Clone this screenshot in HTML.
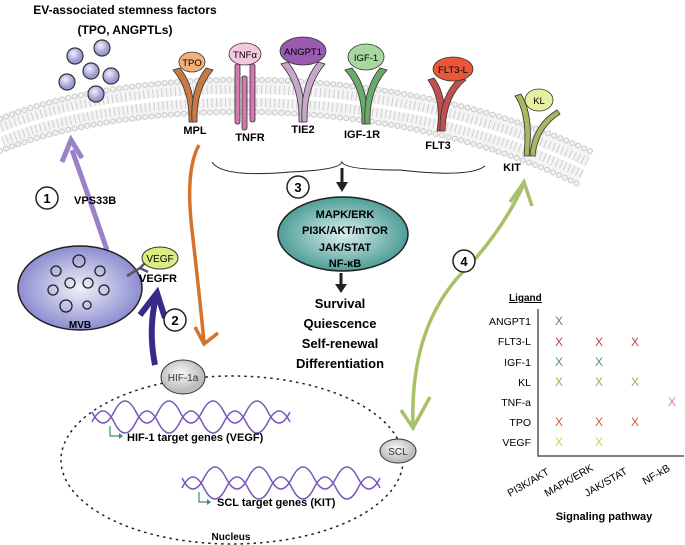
<!DOCTYPE html>
<html><head><meta charset="utf-8"><style>
html,body{margin:0;padding:0;background:#fff}
svg{display:block;font-family:"Liberation Sans",sans-serif}
.b{font-weight:bold}
</style></head><body>
<svg width="685" height="545" viewBox="0 0 685 545">
<defs>
<radialGradient id="ves" cx="40%" cy="35%"><stop offset="0" stop-color="#f0f0ff"/><stop offset="1" stop-color="#9a9ad0"/></radialGradient>
<radialGradient id="mvb" cx="50%" cy="50%"><stop offset="0" stop-color="#f2f2fb"/><stop offset="1" stop-color="#8c8cd0"/></radialGradient>
<radialGradient id="teal" cx="50%" cy="50%"><stop offset="0" stop-color="#d9efed"/><stop offset="1" stop-color="#4f9e98"/></radialGradient>
<radialGradient id="gray" cx="45%" cy="40%"><stop offset="0" stop-color="#fafafa"/><stop offset="1" stop-color="#bcbcbc"/></radialGradient>
</defs>
<!-- membrane -->
<path d="M0,135 C120,85 380,70 585,168" fill="none" stroke="#f4f4f4" stroke-width="36"/>
<path d="M0,135 C120,85 380,70 585,168" fill="none" stroke="#cfcfcf" stroke-width="22" stroke-dasharray="1 3.5"/>
<path d="M0,135 C120,85 380,70 585,168" fill="none" stroke="#fff" stroke-width="4"/>
<path d="M0,119 C120,69 380,54 590,151" fill="none" stroke="#c8c8c8" stroke-width="6" stroke-dasharray="0 6.5" stroke-linecap="round"/>
<path d="M0,119 C120,69 380,54 590,151" fill="none" stroke="#f2f2f2" stroke-width="4" stroke-dasharray="0 6.5" stroke-linecap="round"/>
<path d="M0,151 C120,101 380,86 580,185" fill="none" stroke="#c8c8c8" stroke-width="6" stroke-dasharray="0 6.5" stroke-linecap="round"/>
<path d="M0,151 C120,101 380,86 580,185" fill="none" stroke="#f2f2f2" stroke-width="4" stroke-dasharray="0 6.5" stroke-linecap="round"/>

<!-- title -->
<text x="125" y="14" font-size="12" text-anchor="middle" class="b">EV-associated stemness factors</text>
<text x="125" y="34" font-size="12" text-anchor="middle" class="b">(TPO, ANGPTLs)</text>
<g fill="url(#ves)" stroke="#333" stroke-width="1.2">
<circle cx="75" cy="56" r="8"/><circle cx="102" cy="48" r="8"/><circle cx="91" cy="71" r="8"/><circle cx="111" cy="76" r="8"/><circle cx="67" cy="82" r="8"/><circle cx="96" cy="94" r="8"/>
</g>

<!-- receptors -->
<g stroke="#333" stroke-width="0.8">
<path d="M173,70 Q190,90 189,122 L194,122 Q196,88 180,68Z" fill="#c87a42"/>
<path d="M213,70 Q196,90 197,122 L192,122 Q190,88 206,68Z" fill="#c87a42"/>
<ellipse cx="192" cy="62" rx="13" ry="10" fill="#f4b07a"/>
<rect x="235" y="64" width="5" height="60" rx="2" fill="#d478b0"/>
<rect x="250" y="64" width="5" height="58" rx="2" fill="#d478b0"/>
<rect x="242" y="76" width="5" height="54" rx="2" fill="#d478b0"/>
<ellipse cx="245" cy="54" rx="16" ry="11" fill="#f5c8e0"/>
<path d="M281,64 Q300,86 299,122 L304,122 Q306,84 288,62Z" fill="#c8a8c8"/>
<path d="M325,64 Q306,86 307,122 L302,122 Q300,84 318,62Z" fill="#c8a8c8"/>
<ellipse cx="303" cy="51" rx="23" ry="14" fill="#9a5ab0"/>
<path d="M345,70 Q363,90 362,124 L367,124 Q369,88 352,68Z" fill="#6aaa6a"/>
<path d="M387,70 Q369,90 370,124 L365,124 Q363,88 380,68Z" fill="#6aaa6a"/>
<ellipse cx="366" cy="57" rx="18" ry="13" fill="#a8d8a0"/>
<path d="M428,80 Q442,100 437,131 L442,131 Q449,98 434,78Z" fill="#c05050"/>
<path d="M466,80 Q446,96 445,131 L440,131 Q439,96 459,78Z" fill="#c05050"/>
<ellipse cx="453" cy="69" rx="20" ry="12" fill="#e85838"/>
<path d="M515,96 Q528,115 524,156 L529,156 Q534,115 521,94Z" fill="#a8b860"/>
<path d="M557,110 Q532,125 530,156 L535,156 Q538,128 560,114Z" fill="#a8b860"/>
<ellipse cx="539" cy="100" rx="14" ry="11" fill="#e6f0a0"/>
</g>
<g font-size="9.5" text-anchor="middle">
<text x="192" y="66">TPO</text>
<text x="245" y="58">TNFα</text>
<text x="303" y="55">ANGPT1</text>
<text x="366" y="61">IGF-1</text>
<text x="453" y="73">FLT3-L</text>
<text x="539" y="104">KL</text>
</g>
<g font-size="11" text-anchor="middle" class="b">
<text x="195" y="134">MPL</text>
<text x="250" y="141">TNFR</text>
<text x="303" y="133">TIE2</text>
<text x="362" y="138">IGF-1R</text>
<text x="438" y="149">FLT3</text>
<text x="512" y="171">KIT</text>
</g>

<!-- arrow 1 -->
<path d="M107,250 Q90,200 72,150" fill="none" stroke="#9b82c8" stroke-width="5"/>
<path d="M62,162 L71,140 L82,158" fill="none" stroke="#9b82c8" stroke-width="5"/>
<circle cx="47" cy="198" r="11" fill="#fff" stroke="#222" stroke-width="1.5"/>
<text x="47" y="203" font-size="13" text-anchor="middle" class="b">1</text>
<text x="74" y="204" font-size="11" class="b">VPS33B</text>

<!-- MVB -->
<ellipse cx="80" cy="288" rx="62" ry="42" fill="url(#mvb)" stroke="#222" stroke-width="1.5"/>
<g fill="none" stroke="#222" stroke-width="1.3">
<circle cx="79" cy="261" r="6"/><circle cx="56" cy="271" r="5"/><circle cx="100" cy="271" r="5"/><circle cx="70" cy="283" r="5"/><circle cx="88" cy="283" r="5"/><circle cx="53" cy="290" r="5"/><circle cx="104" cy="290" r="5"/><circle cx="66" cy="306" r="6"/><circle cx="87" cy="305" r="4"/>
</g>
<text x="80" y="328" font-size="10" text-anchor="middle" class="b">MVB</text>
<path d="M127,276 L140,268 M140,268 L146,262 M140,268 L148,272" stroke="#556" stroke-width="2.5" fill="none"/>
<ellipse cx="160" cy="258" rx="18" ry="11" fill="#d8ee80" stroke="#333"/>
<text x="160" y="262" font-size="10" text-anchor="middle">VEGF</text>
<text x="158" y="282" font-size="11" text-anchor="middle" class="b">VEGFR</text>

<!-- arrow 2 -->
<path d="M155,365 Q148,330 156,297" fill="none" stroke="#3a2a88" stroke-width="6"/>
<path d="M140,315 L157,293 L165,318" fill="none" stroke="#3a2a88" stroke-width="6"/>
<circle cx="175" cy="320" r="11" fill="#fff" stroke="#222" stroke-width="1.5"/>
<text x="175" y="325" font-size="13" text-anchor="middle" class="b">2</text>

<!-- orange arrow -->
<path d="M199,145 Q185,170 192,230 Q200,300 204,342" fill="none" stroke="#d5732a" stroke-width="3.5"/>
<path d="M195,327 L204,344 L218,333" fill="none" stroke="#d5732a" stroke-width="3.5"/>

<!-- brace -->
<path d="M212,162 Q222,178 290,172 Q340,170 342,162 Q345,170 400,170 Q470,178 485,166" fill="none" stroke="#222" stroke-width="1"/>
<path d="M342,168 L342,184" stroke="#222" stroke-width="3"/>
<path d="M336,182 L342,192 L348,182Z" fill="#222"/>
<circle cx="298" cy="187" r="11" fill="#fff" stroke="#222" stroke-width="1.5"/>
<text x="298" y="192" font-size="13" text-anchor="middle" class="b">3</text>
<ellipse cx="343" cy="234" rx="65" ry="37" fill="url(#teal)" stroke="#222" stroke-width="1.5"/>
<g font-size="11" text-anchor="middle" class="b">
<text x="345" y="218">MAPK/ERK</text><text x="345" y="234">PI3K/AKT/mTOR</text><text x="345" y="251">JAK/STAT</text><text x="345" y="267">NF-κB</text>
</g>
<path d="M341,273 L341,286" stroke="#222" stroke-width="3"/>
<path d="M335,284 L341,293 L347,284Z" fill="#222"/>
<g font-size="13" text-anchor="middle" class="b">
<text x="340" y="308">Survival</text><text x="340" y="328">Quiescence</text><text x="340" y="348">Self-renewal</text><text x="340" y="368">Differentiation</text>
</g>

<!-- nucleus -->
<ellipse cx="232" cy="460" rx="171" ry="84" fill="none" stroke="#222" stroke-width="1.5" stroke-dasharray="2.5 4"/>
<ellipse cx="183" cy="377" rx="22" ry="17" fill="url(#gray)" stroke="#333"/>
<text x="183" y="381" font-size="10" text-anchor="middle" fill="#333">HIF-1a</text>
<ellipse cx="398" cy="451" rx="18" ry="12" fill="url(#gray)" stroke="#333"/>
<text x="398" y="455" font-size="10" text-anchor="middle" fill="#333">SCL</text>
<g fill="none" stroke="#7a58b8" stroke-width="1.5">
<path d="M92,422 Q103,400 114,422 T136,422 T158,422 T180,422 T202,422 T224,422 T246,422 T268,422 T290,422"/>
<path d="M92,412 Q103,434 114,412 T136,412 T158,412 T180,412 T202,412 T224,412 T246,412 T268,412 T290,412"/>
<path d="M182,488 Q193,466 204,488 T226,488 T248,488 T270,488 T292,488 T314,488 T336,488 T358,488 T380,488"/>
<path d="M182,478 Q193,500 204,478 T226,478 T248,478 T270,478 T292,478 T314,478 T336,478 T358,478 T380,478"/>
</g>
<path d="M110,426 L110,436 L120,436" stroke="#3b8a78" fill="none" stroke-width="1.2"/><path d="M119,433 L123,436 L119,439Z" fill="#3b8a78"/>
<text x="127" y="441" font-size="11" class="b">HIF-1 target genes (VEGF)</text>
<path d="M199,492 L199,502 L208,502" stroke="#3b8a78" fill="none" stroke-width="1.2"/><path d="M207,499 L211,502 L207,505Z" fill="#3b8a78"/>
<text x="217" y="506" font-size="11" class="b">SCL target genes (KIT)</text>
<text x="231" y="540" font-size="10" text-anchor="middle" class="b">Nucleus</text>

<!-- arrow 4 -->
<path d="M523,186 Q500,235 460,275 Q410,330 413,425" fill="none" stroke="#a8c068" stroke-width="3.5"/>
<path d="M510,202 L524,182 L532,206" fill="none" stroke="#a8c068" stroke-width="3.5"/>
<path d="M401,410 L413,428 L430,397" fill="none" stroke="#a8c068" stroke-width="3.5"/>
<circle cx="464" cy="261" r="11" fill="#fff" stroke="#222" stroke-width="1.5"/>
<text x="464" y="266" font-size="13" text-anchor="middle" class="b">4</text>

<!-- table -->
<text x="509" y="301" font-size="10" class="b" text-decoration="underline">Ligand</text>
<g font-size="10.5" text-anchor="end">
<text x="531" y="325">ANGPT1</text><text x="531" y="345">FLT3-L</text><text x="531" y="366">IGF-1</text><text x="531" y="386">KL</text><text x="531" y="406">TNF-a</text><text x="531" y="426">TPO</text><text x="531" y="446">VEGF</text>
</g>
<path d="M538,309 L538,456 L684,456" fill="none" stroke="#556" stroke-width="1.5"/>
<g font-size="12" text-anchor="middle">
<text x="559" y="325" fill="#9a5ab0">X</text>
<text x="559" y="346" fill="#b84848">X</text><text x="599" y="346" fill="#b84848">X</text><text x="635" y="346" fill="#b84848">X</text>
<text x="559" y="366" fill="#4a9a60">X</text><text x="599" y="366" fill="#4a9a60">X</text>
<text x="559" y="386" fill="#a0b050">X</text><text x="599" y="386" fill="#a0b050">X</text><text x="635" y="386" fill="#a0b050">X</text>
<text x="672" y="406" fill="#e070b0">X</text>
<text x="559" y="426" fill="#d06030">X</text><text x="599" y="426" fill="#d06030">X</text><text x="635" y="426" fill="#d06030">X</text>
<text x="559" y="446" fill="#b8d850">X</text><text x="599" y="446" fill="#b8d850">X</text>
</g>
<g font-size="10.5">
<text transform="translate(510,497) rotate(-30)">PI3K/AKT</text>
<text transform="translate(547,497) rotate(-30)">MAPK/ERK</text>
<text transform="translate(587,497) rotate(-30)">JAK/STAT</text>
<text transform="translate(645,485) rotate(-30)">NF-kB</text>
</g>
<text x="604" y="520" font-size="11" text-anchor="middle" class="b">Signaling pathway</text>
</svg>
</body></html>
